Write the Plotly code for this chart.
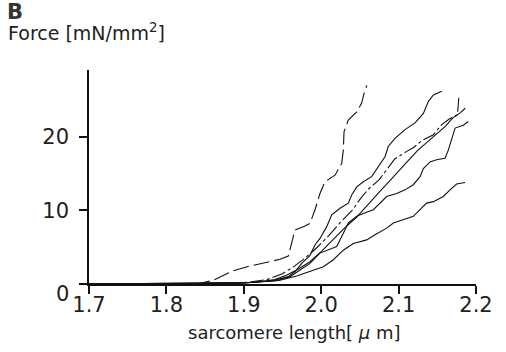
import plotly.graph_objects as go

# ---- data ----
xticks = [1.7, 1.8, 1.9, 2.0, 2.1, 2.2]
xticklabels = ["1.7", "1.8", "1.9", "2.0", "2.1", "2.2"]
yticks = [10, 20]
yticklabels = ["10", "20"]
yzero_tick = [0]

# dashed steep curve
c1_x = [1.70, 1.84, 1.8606, 1.8735, 1.8864, 1.908, 1.9296, 1.9468, 1.9575, 1.9619, 1.9662, 1.9769, 1.9855,
        1.992, 1.9984, 2.0049, 2.0178, 2.0265, 2.0286, 2.0295, 2.035, 2.0459, 2.0523, 2.0553, 2.0588]
c1_y = [0.0, 0.0, 0.5, 1.2, 1.8, 2.45, 2.9, 3.36, 3.8, 5.76, 7.35, 7.8, 8.25,
        10.1, 12.3, 13.9, 14.8, 16.4, 18.2, 20.7, 22.3, 23.4, 24.6, 25.9, 27.0]

# top solid curve
c2_x = [1.70, 1.869, 1.908, 1.938, 1.9575, 1.9662, 1.9748, 1.9855, 1.992, 1.9984, 2.0071, 2.0136, 2.0243,
        2.035, 2.0394, 2.0459, 2.0544, 2.0652, 2.0738, 2.0824, 2.0867, 2.0953, 2.1083, 2.1212, 2.132,
        2.1384, 2.1449, 2.1557]
c2_y = [0.0, 0.1, 0.2, 0.45, 1.0, 1.7, 2.8, 3.9, 5.3, 6.2, 7.8, 9.4, 10.3,
        11.0, 12.1, 13.2, 13.9, 14.6, 16.0, 17.3, 18.7, 19.8, 21.0, 21.9, 23.2,
        24.8, 25.7, 26.2]

# broken curve ending with vertical rise
c3_x = [1.70, 1.86, 1.89, 1.91, 1.93, 1.95, 1.965, 1.98, 1.995, 2.01, 2.025, 2.04, 2.05, 2.06,
        2.075, 2.085, 2.095, 2.11, 2.12, 2.13, 2.145, 2.155, 2.165, 2.176, 2.178]
c3_y = [0.0, 0.0, 0.1, 0.3, 0.6, 1.4, 2.4, 3.6, 5.0, 6.6, 8.4, 10.0, 11.5, 12.8,
        14.2, 15.6, 17.0, 18.0, 18.6, 19.5, 20.3, 21.6, 22.4, 23.0, 25.6]

# curve interleaved with c3
c4_x = [1.70, 1.86, 1.90, 1.92, 1.94, 1.955, 1.97, 1.985, 2.0, 2.015, 2.03, 2.045, 2.06, 2.075,
        2.09, 2.10, 2.11, 2.125, 2.14, 2.15, 2.16, 2.17, 2.18, 2.186]
c4_y = [0.0, 0.0, 0.1, 0.3, 0.6, 1.2, 2.0, 3.0, 4.4, 6.0, 7.6, 9.0, 10.8, 12.5,
        14.2, 15.4, 16.5, 18.2, 19.6, 20.4, 21.4, 22.6, 23.3, 23.9]

# solid curve ending near 22
c5_x = [1.70, 1.87, 1.908, 1.9425, 1.9597, 1.9726, 1.9855, 1.9984, 2.0092, 2.02, 2.0286, 2.035, 2.0459,
        2.0544, 2.0674, 2.076, 2.0846, 2.0975, 2.1083, 2.119, 2.1277, 2.132, 2.1406, 2.149, 2.16,
        2.1642, 2.1685, 2.173, 2.1836, 2.19]
c5_y = [0.0, 0.1, 0.2, 0.45, 1.0, 1.9, 2.8, 4.2, 4.6, 5.1, 6.9, 8.3, 9.2,
        9.6, 10.1, 11.0, 11.9, 12.3, 12.8, 13.5, 14.6, 15.7, 16.6, 16.9, 17.1,
        18.2, 19.8, 21.2, 21.6, 22.1]

# bottom curve
c6_x = [1.70, 1.865, 1.908, 1.9468, 1.9683, 1.9855, 2.0028, 2.0157, 2.0286, 2.0415, 2.0588, 2.0695,
        2.0846, 2.0932, 2.1061, 2.119, 2.1277, 2.1363, 2.1449, 2.1578, 2.1664, 2.175, 2.1858]
c6_y = [0.0, 0.05, 0.2, 0.5, 1.1, 1.7, 2.35, 3.3, 4.6, 5.5, 6.0, 6.7,
        7.6, 8.3, 8.7, 9.2, 10.1, 11.0, 11.2, 11.9, 12.8, 13.6, 13.8]

curves = [
    (c1_x, c1_y, "16px,5px"),
    (c2_x, c2_y, "solid"),
    (c3_x, c3_y, "14px,3px,3px,3px"),
    (c4_x, c4_y, "solid"),
    (c5_x, c5_y, "solid"),
    (c6_x, c6_y, "solid"),
]

W, H = 506, 352
L, R, T, B = 89, 30, 70, 68
pw, ph = W - L - R, H - T - B

def px2paper(px, py):
    return (px - L) / pw, (H - B - py) / ph

fig = go.Figure()
for cx, cy, dash in curves:
    fig.add_trace(go.Scatter(x=cx, y=cy, mode="lines",
                             line=dict(color="#111111", width=1.1, dash=dash),
                             showlegend=False, hoverinfo="skip"))

TICKFONT = dict(family="DejaVu Sans", size=21, color="#222222")
fig.update_layout(
    width=W, height=H,
    margin=dict(l=L, r=R, t=T, b=B, pad=0),
    paper_bgcolor="white", plot_bgcolor="white",
    xaxis=dict(range=[1.7, 2.2], tickvals=xticks, ticktext=xticklabels,
               showline=True, linecolor="#111111", linewidth=1.5,
               ticks="outside", ticklen=8, tickwidth=1.5, tickcolor="#111111",
               showgrid=False, zeroline=False, tickfont=TICKFONT,
               ticklabelstandoff=-7),
    yaxis=dict(range=[0, 29.1], tickvals=yticks, ticktext=yticklabels,
               showline=True, linecolor="#111111", linewidth=1.5,
               ticks="outside", ticklen=8, tickwidth=1.5, tickcolor="#111111",
               showgrid=False, zeroline=False, tickfont=TICKFONT,
               ticklabelstandoff=6,
               minor=dict(tickvals=yzero_tick, ticks="outside", ticklen=8,
                          tickwidth=1.5, tickcolor="#111111", showgrid=False)),
)

ann = []
x0, y0 = px2paper(62, 294)
ann.append(dict(text="0", x=x0, y=y0, xref="paper", yref="paper", showarrow=False,
                xanchor="center", yanchor="middle", font=TICKFONT))
bx, by = px2paper(5, 12)
ann.append(dict(text="<b>B</b>", x=bx, y=by, xref="paper", yref="paper", showarrow=False,
                xanchor="left", yanchor="middle",
                font=dict(family="DejaVu Sans", size=21, color="#333333")))
fx, fy = px2paper(6, 32)
ann.append(dict(text="Force [mN/mm<sup>2</sup>]", x=fx, y=fy, xref="paper", yref="paper",
                showarrow=False, xanchor="left", yanchor="middle",
                font=dict(family="DejaVu Sans", size=19, color="#222222")))
sx, sy = px2paper(294, 332)
ann.append(dict(text="sarcomere length[ <i>μ</i> m]", x=sx, y=sy, xref="paper", yref="paper",
                showarrow=False, xanchor="center", yanchor="middle",
                font=dict(family="DejaVu Sans", size=18, color="#222222")))
fig.update_layout(annotations=ann)

fig.write_html("out.html")
